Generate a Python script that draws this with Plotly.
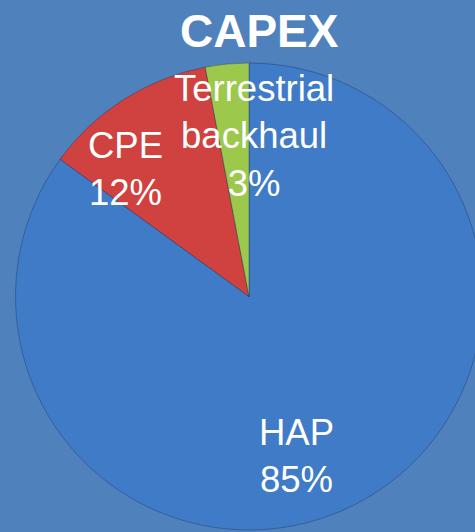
import plotly.graph_objects as go

# Data
labels = ["HAP", "CPE", "Terrestrial<br>backhaul"]
values = [85, 12, 3]
colors = ["#3f7bc7", "#cf4240", "#9cc84b"]
title_text = "CAPEX"

W, H = 483, 532

def px_x(x):
    return x / W

def px_y(y):
    return 1 - y / H

# label centre positions in pixels (styling only)
label_pos = [(296, 456), (125, 169), (254, 136)]

fig = go.Figure(
    go.Pie(
        labels=labels,
        values=values,
        sort=False,
        direction="clockwise",
        rotation=0,
        marker=dict(colors=colors, line=dict(color="rgba(20,40,80,0.35)", width=1)),
        textinfo="none",
        hoverinfo="label+percent",
        domain=dict(x=[px_x(15.5), px_x(482.5)], y=[px_y(530), px_y(63)]),
        showlegend=False,
    )
)

total = sum(values)
annotations = []
for lab, val, (x, y) in zip(labels, values, label_pos):
    annotations.append(
        dict(
            text=f"{lab}<br>{round(100 * val / total)}%",
            x=px_x(x), y=px_y(y), xref="paper", yref="paper",
            xanchor="center", yanchor="middle", showarrow=False,
            font=dict(family="Liberation Sans, Arial, sans-serif", size=36.5, color="white"),
        )
    )
annotations.append(
    dict(
        text=f"<b>{title_text}</b>",
        x=px_x(259), y=px_y(31), xref="paper", yref="paper",
        xanchor="center", yanchor="middle", showarrow=False,
        font=dict(family="Liberation Sans, Arial, sans-serif", size=46, color="white"),
    )
)

fig.update_layout(
    width=W, height=H,
    margin=dict(l=0, r=0, t=0, b=0),
    paper_bgcolor="#4f81bd",
    plot_bgcolor="#4f81bd",
    annotations=annotations,
)

fig.write_html(
    "out.html",
    config={"displayModeBar": False},
    post_script="document.body.style.margin='0';document.body.style.overflow='hidden';",
)
